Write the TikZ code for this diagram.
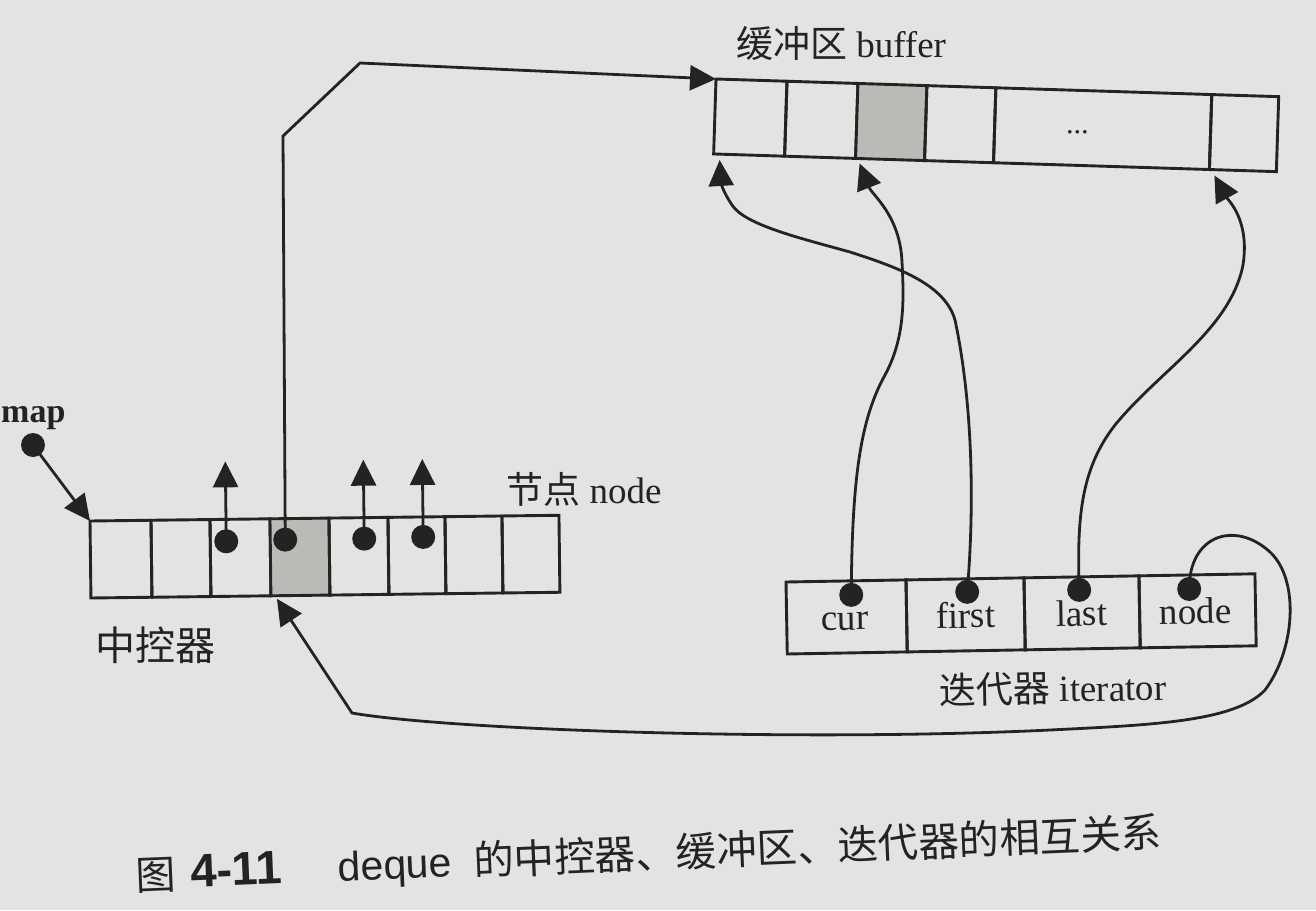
\documentclass[tikz,border=0pt]{standalone}
\usepackage{fontspec}
\setmainfont{Liberation Serif}
\setsansfont{Liberation Sans}
\newfontfamily\cjk{Noto Sans CJK SC}
\usetikzlibrary{arrows.meta,calc}
\definecolor{paper}{RGB}{227,228,225}
\definecolor{ink}{RGB}{35,35,35}
\definecolor{shade}{RGB}{186,186,183}
\begin{document}
\begin{tikzpicture}[x=1pt,y=-1pt,
  cell/.style={draw=ink, line width=2.9pt, anchor=north west, outer sep=0pt, inner sep=0pt},
  dot/.style={circle, fill=ink, minimum size=24pt, inner sep=0pt, outer sep=0pt},
  ptr/.style={draw=ink, line width=2.8pt, line join=miter, -{Triangle[length=26pt,width=25pt]}},
  lbl/.style={inner sep=0pt, text=ink, font=\fontsize{37pt}{40pt}\selectfont},
]
\useasboundingbox (0,0) rectangle (1316,910);
\fill[paper] (0,0) rectangle (1316,910);

% ---------- map (central controller) ----------
\begin{scope}[shift={(90,521)}, rotate=0.7, transform shape]
  \node[cell, minimum height=77pt, minimum width=61pt] (m1) at (0,0) {};
  \node[cell, minimum height=77pt, minimum width=59pt] (m2) at (61,0) {};
  \node[cell, minimum height=77pt, minimum width=60pt] (m3) at (120,0) {};
  \node[cell, minimum height=77pt, minimum width=59pt, fill=shade] (m4) at (180,0) {};
  \node[cell, minimum height=77pt, minimum width=59pt] (m5) at (239,0) {};
  \node[cell, minimum height=77pt, minimum width=57pt] (m6) at (298,0) {};
  \node[cell, minimum height=77pt, minimum width=57pt] (m7) at (355,0) {};
  \node[cell, minimum height=77pt, minimum width=57pt] (m8) at (412,0) {};
  \node[dot] (d3) at (136,22) {};
  \node[dot] (d4) at (195,21) {};
  \node[dot] (d5) at (274,21) {};
  \node[dot] (d6) at (333,20) {};
  \coordinate (t3) at (136,-58);
  \coordinate (t5) at (274,-58);
  \coordinate (t6) at (333,-58);
\end{scope}

% ---------- buffer ----------
\begin{scope}[shift={(716,79)}, rotate=-1.8, transform shape]
  \node[cell, minimum height=75pt, minimum width=71pt] (b1) at (0,0) {};
  \node[cell, minimum height=75pt, minimum width=71pt] (b2) at (71,0) {};
  \node[cell, minimum height=75pt, minimum width=69pt, fill=shade] (b3) at (142,0) {};
  \node[cell, minimum height=75pt, minimum width=69pt] (b4) at (211,0) {};
  \node[cell, minimum height=75pt, minimum width=216pt] (b5) at (280,0) {};
  \node[cell, minimum height=75pt, minimum width=67pt] (b6) at (496,0) {};
  \node[lbl, font=\fontsize{30pt}{32pt}\selectfont] (ell) at (363,42) {...};
\end{scope}

% ---------- iterator ----------
\begin{scope}[shift={(786,582)}, rotate=1.0, transform shape]
  \node[cell, minimum height=72pt, minimum width=120pt] (i1) at (0,0) {};
  \node[cell, minimum height=72pt, minimum width=118pt] (i2) at (120,0) {};
  \node[cell, minimum height=72pt, minimum width=115pt] (i3) at (238,0) {};
  \node[cell, minimum height=72pt, minimum width=116pt] (i4) at (353,0) {};
  \node[lbl, anchor=base] (lcur) at (58,49) {cur};
  \node[lbl, anchor=base] (lfirst) at (179,49) {first};
  \node[lbl, anchor=base] (llast) at (295,49) {last};
  \node[lbl, anchor=base] (lnode) at (409,49) {node};
  \node[dot] (icur) at (65,14) {};
  \node[dot] (ifirst) at (181,13) {};
  \node[dot] (ilast) at (293,13) {};
  \node[dot] (inode) at (403,14) {};
\end{scope}

% ---------- labels ----------
\node[lbl] (buflab) at (841,44) {{\cjk 缓冲区} buffer};
\node[lbl] (nodelab) at (584,489) {{\cjk 节点} node};
\node[lbl, font=\fontsize{40pt}{44pt}\selectfont] (maplab2) at (155,645) {\cjk 中控器};
\node[lbl, rotate=1] (itlab) at (1053,688) {{\cjk 迭代器} iterator};
\node[inner sep=0pt, text=ink, anchor=base west, font=\bfseries\fontsize{34pt}{36pt}\selectfont] (maplab) at (1,422) {map};
\node[dot] (mapdot) at (33,445) {};

% ---------- connectors ----------
\draw[ptr] (mapdot.center) -- (m1.north west);
\draw[ptr] (d3.center) -- (t3);
\draw[ptr] (d5.center) -- (t5);
\draw[ptr] (d6.center) -- (t6);
\draw[ptr] (d4.center) -- (283,136) -- (360,63) -- (b1.north west);

\draw[ptr] (icur.center) .. controls (852,480) and (860,420) .. (885,375)
  .. controls (905,338) and (904,300) .. (902,262)
  .. controls (900,215) and (872,195) .. ($(b3.south west)+(4,5)$);
\draw[ptr] (ifirst.center) .. controls (975,500) and (972,400) .. (955,320)
  .. controls (945,285) and (900,268) .. (850,252)
  .. controls (800,238) and (745,225) .. (732,205)
  .. controls (722,190) and (721,182) .. ($(b1.south west)+(6,6)$);
\draw[ptr] (ilast.center) .. controls (1077,520) and (1080,470) .. (1115,425)
  .. controls (1160,370) and (1230,330) .. (1243,265)
  .. controls (1250,220) and (1228,200) .. ($(b6.south west)+(5,6)$);
\draw[ptr] (inode.center) .. controls (1189,535) and (1235,520) .. (1270,552)
  .. controls (1300,580) and (1295,650) .. (1265,690)
  .. controls (1235,722) and (1150,725) .. (1050,730)
  .. controls (800,742) and (450,730) .. (352,713)
  -- ($(m4.south west)+(6,3)$);

% ---------- caption ----------
\node[inner sep=0pt, text=ink, anchor=base west, rotate=2.4] (cap) at (136,890)
  {{\cjk\fontsize{40pt}{44pt}\selectfont 图}\hspace{15pt}{\sffamily\bfseries\fontsize{47pt}{50pt}\selectfont 4-11}\hspace{56pt}{\sffamily\fontsize{41pt}{44pt}\selectfont deque}\hspace{22pt}{\cjk\fontsize{40.5pt}{44pt}\selectfont 的中控器、缓冲区、迭代器的相互关系}};
\end{tikzpicture}
\end{document}
